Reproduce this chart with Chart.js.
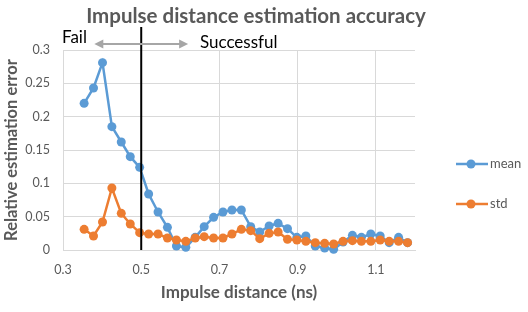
<!DOCTYPE html>
<html>
<head>
<meta charset="utf-8">
<script src="https://cdn.jsdelivr.net/npm/chart.js@4"></script>
<style>
    html, body { margin: 0; padding: 0; background: #fff; }
</style>
</head>
<body>
<canvas id="accuracyChart" width="528" height="312"></canvas>
<script>
(function () {
    'use strict';

    // impulse distance (ns) for each measurement
    const impulseDistance = [
        0.354, 0.378, 0.401, 0.425, 0.449, 0.472, 0.496, 0.519, 0.543, 0.567,
        0.590, 0.614, 0.638, 0.661, 0.685, 0.709, 0.732, 0.756, 0.780, 0.803,
        0.827, 0.850, 0.874, 0.898, 0.921, 0.945, 0.969, 0.992, 1.016, 1.040,
        1.063, 1.087, 1.111, 1.134, 1.158, 1.181,
    ];
    const meanError = [
        0.220, 0.243, 0.281, 0.185, 0.162, 0.140, 0.124, 0.084, 0.057, 0.034,
        0.006, 0.004, 0.019, 0.035, 0.049, 0.057, 0.060, 0.060, 0.035, 0.027,
        0.036, 0.040, 0.032, 0.019, 0.021, 0.006, 0.003, 0.001, 0.012, 0.022,
        0.019, 0.024, 0.021, 0.011, 0.019, 0.011,
    ];
    const stdError = [
        0.031, 0.021, 0.042, 0.093, 0.055, 0.039, 0.026, 0.024, 0.024, 0.018,
        0.015, 0.013, 0.018, 0.020, 0.018, 0.018, 0.024, 0.031, 0.029, 0.017,
        0.025, 0.027, 0.016, 0.015, 0.013, 0.011, 0.010, 0.009, 0.013, 0.014,
        0.013, 0.013, 0.015, 0.013, 0.013, 0.011,
    ];
    const xTicks = [0.3, 0.5, 0.7, 0.9, 1.1];
    const yTicks = [0, 0.05, 0.1, 0.15, 0.2, 0.25, 0.3];

    // fail / successful boundary
    const boundary = 0.5;
    const arrowSpan = [0.38, 0.62];
    const successLabelAt = 0.65;

    const MEAN_COLOR = '#5B9BD5';
    const STD_COLOR = '#ED7D31';
    const TEXT_GRAY = '#595959';
    const GRID = '#D9D9D9';
    const FONT = "Lato, 'Open Sans', sans-serif";

    function toPoints(ys) {
        return impulseDistance.map((x, i) => ({ x: x, y: ys[i] }));
    }

    function arrowHead(ctx, x, y, dir) {
        ctx.beginPath();
        ctx.moveTo(x, y);
        ctx.lineTo(x - dir * 9, y - 4.5);
        ctx.lineTo(x - dir * 9, y + 4.5);
        ctx.closePath();
        ctx.fill();
    }

    const annotations = {
        id: 'annotations',
        afterDatasetsDraw(chart) {
            const { ctx, chartArea } = chart;
            const x = chart.scales.x;
            const top = chartArea.top;
            ctx.save();

            // black boundary line
            const bx = x.getPixelForValue(boundary);
            ctx.strokeStyle = '#000';
            ctx.lineWidth = 2;
            ctx.beginPath();
            ctx.moveTo(bx, top - 23);
            ctx.lineTo(bx, chartArea.bottom);
            ctx.stroke();

            // grey double arrow
            const ax0 = x.getPixelForValue(arrowSpan[0]);
            const ax1 = x.getPixelForValue(arrowSpan[1]);
            const ay = top - 6;
            ctx.strokeStyle = '#A6A6A6';
            ctx.fillStyle = '#A6A6A6';
            ctx.lineWidth = 2;
            ctx.beginPath();
            ctx.moveTo(ax0 + 6, ay);
            ctx.lineTo(ax1 - 6, ay);
            ctx.stroke();
            arrowHead(ctx, ax0, ay, -1);
            arrowHead(ctx, ax1, ay, 1);

            ctx.fillStyle = '#000';
            ctx.font = '17px ' + FONT;
            ctx.textBaseline = 'middle';
            ctx.textAlign = 'left';
            ctx.fillText('Fail', chartArea.left - 1, top - 12);
            ctx.fillText('Successful', x.getPixelForValue(successLabelAt), top - 7);
            ctx.restore();
        },
        afterDraw(chart) {
            const { ctx } = chart;
            ctx.save();
            chart.data.datasets.forEach((ds, i) => {
                const y = 164 + i * 40;
                ctx.strokeStyle = ds.borderColor;
                ctx.lineWidth = 2.5;
                ctx.beginPath();
                ctx.moveTo(456, y);
                ctx.lineTo(488, y);
                ctx.stroke();
                ctx.fillStyle = ds.borderColor;
                ctx.beginPath();
                ctx.arc(471, y, 4.5, 0, Math.PI * 2);
                ctx.fill();
                ctx.fillStyle = TEXT_GRAY;
                ctx.font = '13px ' + FONT;
                ctx.textBaseline = 'middle';
                ctx.textAlign = 'left';
                ctx.fillText(ds.label, 490, y);
            });
            ctx.restore();
        },
    };

    new Chart(document.getElementById('accuracyChart'), {
        type: 'line',
        data: {
            datasets: [
                {
                    label: 'mean',
                    data: toPoints(meanError),
                    borderColor: MEAN_COLOR,
                    backgroundColor: MEAN_COLOR,
                    borderWidth: 2.5,
                    pointRadius: 4.5,
                    pointBorderWidth: 0,
                    pointBackgroundColor: MEAN_COLOR,
                    tension: 0,
                    clip: false,
                    order: 2,
                },
                {
                    label: 'std',
                    data: toPoints(stdError),
                    borderColor: STD_COLOR,
                    backgroundColor: STD_COLOR,
                    borderWidth: 2.5,
                    pointRadius: 4.5,
                    pointBorderWidth: 0,
                    pointBackgroundColor: STD_COLOR,
                    tension: 0,
                    clip: false,
                    order: 1,
                },
            ],
        },
        options: {
            responsive: false,
            animation: false,
            devicePixelRatio: 1,
            layout: { padding: { left: 0, right: 16, top: 0, bottom: 0 } },
            plugins: {
                legend: { display: false },
                tooltip: { enabled: false },
                title: {
                    display: true,
                    text: 'Impulse distance estimation accuracy',
                    color: TEXT_GRAY,
                    font: { family: FONT, size: 20.5, weight: 'bold' },
                    padding: { top: 4, bottom: 21.4 },
                },
            },
            scales: {
                x: {
                    type: 'linear',
                    min: 0.3,
                    max: 1.2,
                    afterBuildTicks: (scale) => {
                        scale.ticks = xTicks.map((v) => ({ value: v }));
                    },
                    afterFit: (scale) => { scale.height = 62; },
                    ticks: {
                        color: TEXT_GRAY,
                        font: { family: FONT, size: 12.5 },
                        padding: 12,
                        callback: (v) => String(v),
                    },
                    grid: { color: GRID, drawTicks: false },
                    border: { color: GRID },
                    title: {
                        display: true,
                        text: 'Impulse distance (ns)',
                        color: TEXT_GRAY,
                        font: { family: FONT, size: 17, weight: 'bold' },
                        padding: { top: 0, bottom: 9 },
                    },
                },
                y: {
                    type: 'linear',
                    min: 0,
                    max: 0.3,
                    afterBuildTicks: (scale) => {
                        scale.ticks = yTicks.map((v) => ({ value: v }));
                    },
                    afterFit: (scale) => { scale.width = 63; },
                    ticks: {
                        color: TEXT_GRAY,
                        font: { family: FONT, size: 12.5 },
                        padding: 13,
                        callback: (v) => String(v),
                    },
                    grid: { color: GRID, drawTicks: false },
                    border: { display: false },
                    title: {
                        display: true,
                        text: 'Relative estimation error',
                        color: TEXT_GRAY,
                        font: { family: FONT, size: 16.5, weight: 'bold' },
                        padding: { top: 2, bottom: 0 },
                    },
                },
                // empty right-hand column that holds the legend
                legendSpace: {
                    type: 'linear',
                    position: 'right',
                    display: true,
                    afterFit: (scale) => { scale.width = 97; },
                    ticks: { display: false },
                    grid: { display: false },
                    border: { display: false },
                },
            },
        },
        plugins: [annotations],
    });
})();
</script>
</body>
</html>
